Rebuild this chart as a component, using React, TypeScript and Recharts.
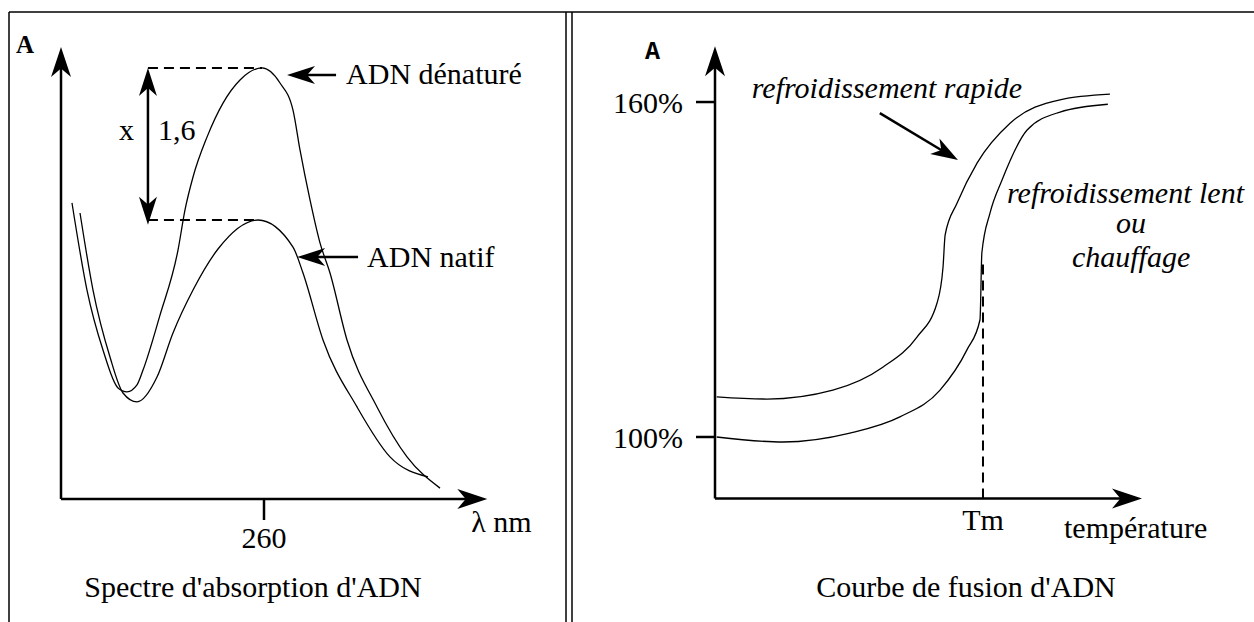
import React from 'react';
import { LineChart, Line, XAxis, YAxis, ReferenceLine, ReferenceDot } from 'recharts';

const SERIF = "'Liberation Serif', 'Times New Roman', Times, serif";
const MONO = "'Liberation Mono', 'Courier New', monospace";
const FS = 30;

// ---------- Left panel: absorption spectrum ----------
const denatNm = [203.25, 207.68, 212.41, 216.85, 219.51, 222.46, 224.24, 229.26, 234.58, 236.65, 239.02, 243.15, 247.88, 252.91, 259.41, 264.73, 268.57, 270.64, 273.6, 276.55, 279.51, 284.53, 293.4, 302.27, 312.02];
const denatA = [1.061, 0.749, 0.534, 0.398, 0.384, 0.409, 0.462, 0.659, 0.892, 1.036, 1.154, 1.297, 1.419, 1.502, 1.545, 1.491, 1.394, 1.251, 1.072, 0.918, 0.81, 0.57, 0.33, 0.151, 0.039];
const natifNm = [205.62, 209.46, 214.48, 218.33, 222.46, 228.37, 233.1, 239.02, 246.4, 258.23, 268.57, 271.53, 277.44, 287.49, 297.24, 308.47];
const natifA = [1.025, 0.749, 0.509, 0.38, 0.348, 0.437, 0.595, 0.749, 0.896, 1.0, 0.903, 0.81, 0.57, 0.33, 0.151, 0.079];
const nmTicks = [260];
const NM_DOMAIN: [number, number] = [200, 326];
const A_DOMAIN: [number, number] = [0, 1.62];

// ---------- Right panel: melting curve ----------
const rapideT = [0.4, 12.2, 27.6, 39.3, 47.3, 52.0, 53.4, 53.9, 56.7, 61.4, 69.1, 80.8, 92.5];
const rapidePct = [107.2, 106.8, 108.4, 112.5, 117.9, 124.0, 130.4, 136.2, 141.9, 149.1, 156.2, 160.4, 161.4];
const lentT = [0.4, 15.9, 31.6, 43.3, 52.7, 59.0, 62.06, 62.5, 64.4, 67.2, 73.1, 80.8, 92.0];
const lentPct = [100.0, 99.1, 100.7, 103.6, 108.4, 115.6, 121.0, 133.0, 140.1, 146.0, 155.0, 158.2, 159.6];
const pctTicks = [100, 160];
const TM = 62.76;
const T_DOMAIN: [number, number] = [0, 100];
const PCT_DOMAIN: [number, number] = [89, 170];

const denatData = denatNm.map((nm, i) => ({ nm, a: denatA[i] }));
const natifData = natifNm.map((nm, i) => ({ nm, a: natifA[i] }));
const rapideData = rapideT.map((t, i) => ({ t, pct: rapidePct[i] }));
const lentData = lentT.map((t, i) => ({ t, pct: lentPct[i] }));

// peak of the 260 nm band (ignore the short-wavelength rise)
const bandPeak = (nms: number[], as: number[]) => {
  let best = -1;
  nms.forEach((nm, i) => {
    if (nm >= 240 && (best < 0 || as[i] > as[best])) best = i;
  });
  return { nm: nms[best], a: as[best] };
};
const denatPeak = bandPeak(denatNm, denatA);
const natifPeak = bandPeak(natifNm, natifA);
const RATIO_NM = 225.7;

type ArrowOpts = { start?: boolean; end?: boolean; L?: number; W?: number; sw?: number };
const arrowShape = (o: ArrowOpts) => (p: any) => {
  const x1 = Number(p.x1), y1 = Number(p.y1), x2 = Number(p.x2), y2 = Number(p.y2);
  const L = o.L ?? 28, W = o.W ?? 9, sw = o.sw ?? 2.5;
  const dx = x2 - x1, dy = y2 - y1;
  const len = Math.hypot(dx, dy) || 1;
  const ux = dx / len, uy = dy / len;
  const px = -uy, py = ux;
  const head = (tx: number, ty: number, dxu: number, dyu: number) => {
    const bx = tx - dxu * L, by = ty - dyu * L;
    const nx = tx - dxu * L * 0.72, ny = ty - dyu * L * 0.72;
    return `M${tx},${ty}L${bx + px * W},${by + py * W}L${nx},${ny}L${bx - px * W},${by - py * W}Z`;
  };
  const end = o.end !== false;
  const sx = o.start ? x1 + ux * L * 0.6 : x1;
  const sy = o.start ? y1 + uy * L * 0.6 : y1;
  const ex = end ? x2 - ux * L * 0.6 : x2;
  const ey = end ? y2 - uy * L * 0.6 : y2;
  return (
    <g>
      <line x1={sx} y1={sy} x2={ex} y2={ey} stroke="#000" strokeWidth={sw} />
      {end && <path d={head(x2, y2, ux, uy)} fill="#000" />}
      {o.start && <path d={head(x1, y1, -ux, -uy)} fill="#000" />}
    </g>
  );
};

const note = (text: string, dx: number, dy: number, extra: any = {}) => (p: any) => (
  <text x={Number(p.cx) + dx} y={Number(p.cy) + dy} fontFamily={SERIF} fontSize={FS} fill="#000" {...extra}>
    {text}
  </text>
);

const noDot = { isAnimationActive: false, dot: false, activeDot: false } as const;

export default function App() {
  return (
    <div style={{ position: 'absolute', left: 0, top: 0, width: 1254, height: 622, background: '#fff', overflow: 'hidden' }}>
      <svg width={1254} height={622} style={{ position: 'absolute', left: 0, top: 0 }}>
        <line x1={9} y1={12} x2={1254} y2={12} stroke="#000" strokeWidth={1.5} />
        <line x1={9} y1={12} x2={9} y2={622} stroke="#000" strokeWidth={1.5} />
        <line x1={566} y1={12} x2={566} y2={622} stroke="#000" strokeWidth={1.5} />
        <line x1={572} y1={12} x2={572} y2={622} stroke="#000" strokeWidth={1.5} />
      </svg>

      <div style={{ position: 'absolute', left: 0, top: 0 }}>
        <LineChart width={566} height={622} margin={{ top: 47, right: 78.7, bottom: 63, left: 61 }}>
          <XAxis
            type="number"
            dataKey="nm"
            domain={NM_DOMAIN}
            allowDataOverflow
            ticks={nmTicks}
            interval={0}
            axisLine={false}
            tickLine={{ stroke: '#000', strokeWidth: 2.5 }}
            tickSize={21}
            tickMargin={7}
            height={60}
            tick={{ fill: '#000', fontSize: FS, fontFamily: SERIF }}
          />
          <YAxis type="number" domain={A_DOMAIN} allowDataOverflow hide />
          <Line data={natifData} dataKey="a" type="monotone" stroke="#000" strokeWidth={1.3} {...noDot} />
          <Line data={denatData} dataKey="a" type="monotone" stroke="#000" strokeWidth={1.3} {...noDot} />

          {/* axes with arrows */}
          <ReferenceLine ifOverflow="visible" segment={[{ x: NM_DOMAIN[0], y: 0 }, { x: NM_DOMAIN[1], y: 0 }]} shape={arrowShape({ L: 30, W: 10 })} />
          <ReferenceLine ifOverflow="visible" segment={[{ x: NM_DOMAIN[0], y: 0 }, { x: NM_DOMAIN[0], y: A_DOMAIN[1] }]} shape={arrowShape({ L: 30, W: 10 })} />

          {/* dashed peak levels */}
          <ReferenceLine ifOverflow="visible" segment={[{ x: RATIO_NM, y: denatPeak.a }, { x: denatPeak.nm, y: denatPeak.a }]} stroke="#000" strokeWidth={2} strokeDasharray="10 6" />
          <ReferenceLine ifOverflow="visible" segment={[{ x: RATIO_NM, y: natifPeak.a }, { x: natifPeak.nm, y: natifPeak.a }]} stroke="#000" strokeWidth={2} strokeDasharray="10 6" />
          {/* x 1,6 double arrow */}
          <ReferenceLine ifOverflow="visible" segment={[{ x: RATIO_NM, y: natifPeak.a - 0.017 }, { x: RATIO_NM, y: denatPeak.a }]} shape={arrowShape({ start: true, L: 28, W: 9 })} />
          <ReferenceDot ifOverflow="visible" x={RATIO_NM} y={(denatPeak.a + natifPeak.a) / 2} r={0} shape={note('x', -14, -4, { textAnchor: 'end' })} />
          <ReferenceDot ifOverflow="visible" x={RATIO_NM} y={(denatPeak.a + natifPeak.a) / 2} r={0} shape={note('1,6', 10, -4)} />

          {/* pointers */}
          <ReferenceLine ifOverflow="visible" segment={[{ x: 281.3, y: 1.52 }, { x: 266.8, y: 1.52 }]} shape={arrowShape({ L: 28, W: 9 })} />
          <ReferenceDot ifOverflow="visible" x={281.3} y={1.52} r={0} shape={note('ADN dénaturé', 10, 9)} />
          <ReferenceLine ifOverflow="visible" segment={[{ x: 287.8, y: 0.867 }, { x: 269.8, y: 0.867 }]} shape={arrowShape({ L: 28, W: 9 })} />
          <ReferenceDot ifOverflow="visible" x={287.8} y={0.867} r={0} shape={note('ADN natif', 9, 10)} />

          {/* axis labels & title */}
          <ReferenceDot ifOverflow="visible" x={NM_DOMAIN[0]} y={A_DOMAIN[1]} r={0} shape={note('A', -45, 6, { fontWeight: 'bold', fontSize: 25 })} />
          <ReferenceDot ifOverflow="visible" x={NM_DOMAIN[1]} y={0} r={0} shape={note('λ nm', -16, 33)} />
          <ReferenceDot ifOverflow="visible" x={NM_DOMAIN[0]} y={0} r={0} shape={note("Spectre d'absorption d'ADN", 192, 98, { textAnchor: 'middle' })} />
        </LineChart>
      </div>

      <div style={{ position: 'absolute', left: 570, top: 0 }}>
        <LineChart width={684} height={622} margin={{ top: 46.2, right: 112, bottom: 63.6, left: 45 }}>
          <XAxis
            type="number"
            dataKey="t"
            domain={T_DOMAIN}
            allowDataOverflow
            ticks={[TM]}
            interval={0}
            tickFormatter={() => 'Tm'}
            axisLine={false}
            tickLine={false}
            tickSize={6}
            tickMargin={4}
            height={60}
            tick={{ fill: '#000', fontSize: FS, fontFamily: SERIF }}
          />
          <YAxis
            type="number"
            domain={PCT_DOMAIN}
            allowDataOverflow
            ticks={pctTicks}
            interval={0}
            tickFormatter={(v: number) => `${v}%`}
            axisLine={false}
            tickLine={{ stroke: '#000', strokeWidth: 2.5 }}
            tickSize={19}
            tickMargin={13}
            width={100}
            tick={{ fill: '#000', fontSize: FS, fontFamily: SERIF }}
          />
          <Line data={rapideData} dataKey="pct" type="monotone" stroke="#000" strokeWidth={1.3} {...noDot} />
          <Line data={lentData} dataKey="pct" type="monotone" stroke="#000" strokeWidth={1.3} {...noDot} />

          <ReferenceLine ifOverflow="visible" segment={[{ x: T_DOMAIN[0], y: PCT_DOMAIN[0] }, { x: T_DOMAIN[1], y: PCT_DOMAIN[0] }]} shape={arrowShape({ L: 30, W: 10 })} />
          <ReferenceLine ifOverflow="visible" segment={[{ x: T_DOMAIN[0], y: PCT_DOMAIN[0] }, { x: T_DOMAIN[0], y: PCT_DOMAIN[1] }]} shape={arrowShape({ L: 30, W: 10 })} />

          <ReferenceLine ifOverflow="visible" segment={[{ x: TM, y: PCT_DOMAIN[0] }, { x: TM, y: 131.2 }]} stroke="#000" strokeWidth={2} strokeDasharray="10 6" />

          <ReferenceLine ifOverflow="visible" segment={[{ x: 38.6, y: 158.0 }, { x: 56.9, y: 149.6 }]} shape={arrowShape({ L: 27, W: 9 })} />
          <ReferenceDot ifOverflow="visible" x={38.6} y={158.0} r={0} shape={note('refroidissement rapide', -128, -15, { fontStyle: 'italic' })} />

          <ReferenceDot ifOverflow="visible" x={68.4} y={141.9} r={0} shape={note('refroidissement lent', 0, 0, { fontStyle: 'italic' })} />
          <ReferenceDot ifOverflow="visible" x={68.4} y={141.9} r={0} shape={note('ou', 124, 30, { fontStyle: 'italic', textAnchor: 'middle' })} />
          <ReferenceDot ifOverflow="visible" x={68.4} y={141.9} r={0} shape={note('chauffage', 124, 64, { fontStyle: 'italic', textAnchor: 'middle' })} />

          <ReferenceDot ifOverflow="visible" x={T_DOMAIN[0]} y={PCT_DOMAIN[1]} r={0} shape={note('A', -70, 13, { fontWeight: 'bold', fontSize: 25, fontFamily: MONO })} />
          <ReferenceDot ifOverflow="visible" x={T_DOMAIN[1]} y={PCT_DOMAIN[0]} r={0} shape={note('température', -78, 40)} />
          <ReferenceDot ifOverflow="visible" x={T_DOMAIN[0]} y={PCT_DOMAIN[0]} r={0} shape={note("Courbe de fusion d'ADN", 251, 99, { textAnchor: 'middle' })} />
        </LineChart>
      </div>
    </div>
  );
}
